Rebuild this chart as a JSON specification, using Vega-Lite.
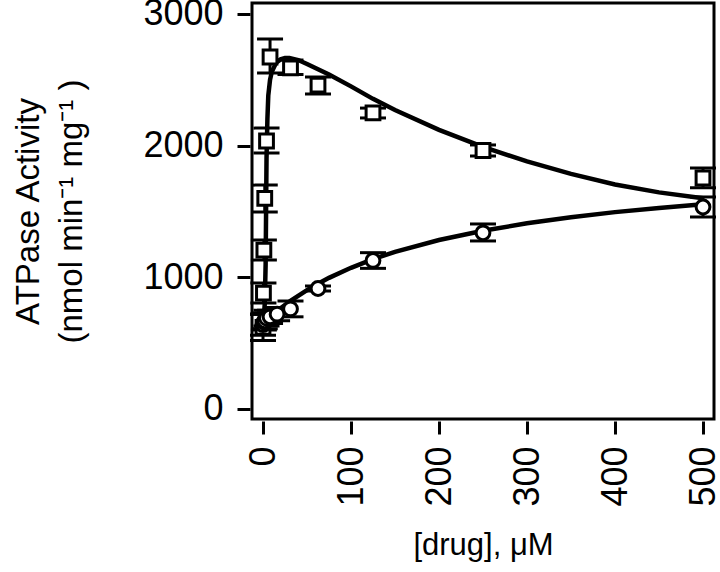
{
  "$schema": "https://vega.github.io/schema/vega-lite/v6.json",
  "autosize": {"type": "none"},
  "padding": {"left": 252, "top": 3, "right": 6, "bottom": 153},
  "width": 462,
  "height": 416,
  "config": {
    "view": {"stroke": "black", "strokeWidth": 3},
    "font": "Liberation Sans",
    "axis": {
      "domain": false, "grid": false, "offset": 2,
      "tickSize": 13, "tickWidth": 3, "tickColor": "black",
      "labelFont": "Liberation Sans", "labelFontSize": 36, "labelColor": "black",
      "titleFont": "Liberation Sans", "titleFontSize": 33, "titleFontWeight": "normal", "titleColor": "black"
    },
    "axisX": {"labelAngle": 270, "labelPadding": 12, "titlePadding": 24, "titleFontSize": 31},
    "axisY": {"labelPadding": 14, "titlePadding": 54, "titleLineHeight": 43}
  },
  "datasets": {
    "pts": [
      {"series": "A", "x": 0, "y": 620, "lo": 520, "hi": 720},
      {"series": "A", "x": 0.5, "y": 880, "lo": 805, "hi": 957},
      {"series": "A", "x": 1, "y": 1207, "lo": 1131, "hi": 1283},
      {"series": "A", "x": 2, "y": 1600, "lo": 1496, "hi": 1700},
      {"series": "A", "x": 4, "y": 2035, "lo": 1944, "hi": 2133},
      {"series": "A", "x": 8, "y": 2673, "lo": 2551, "hi": 2810},
      {"series": "A", "x": 31.25, "y": 2590, "lo": 2540, "hi": 2650},
      {"series": "A", "x": 62.5, "y": 2460, "lo": 2392, "hi": 2521},
      {"series": "A", "x": 125, "y": 2248, "lo": 2210, "hi": 2285},
      {"series": "A", "x": 250, "y": 1963, "lo": 1921, "hi": 2005},
      {"series": "A", "x": 500, "y": 1754, "lo": 1680, "hi": 1830},
      {"series": "B", "x": 0, "y": 640, "lo": 560, "hi": 720},
      {"series": "B", "x": 1, "y": 660, "lo": 600, "hi": 720},
      {"series": "B", "x": 2, "y": 670, "lo": 610, "hi": 730},
      {"series": "B", "x": 4, "y": 690, "lo": 630, "hi": 750},
      {"series": "B", "x": 8, "y": 700, "lo": 650, "hi": 750},
      {"series": "B", "x": 16, "y": 720, "lo": 670, "hi": 770},
      {"series": "B", "x": 31.25, "y": 760, "lo": 700, "hi": 820},
      {"series": "B", "x": 62.5, "y": 915, "lo": 896, "hi": 934},
      {"series": "B", "x": 125, "y": 1128, "lo": 1068, "hi": 1187},
      {"series": "B", "x": 250, "y": 1338, "lo": 1276, "hi": 1405},
      {"series": "B", "x": 500, "y": 1534, "lo": 1458, "hi": 1610}
    ],
    "curves": [
      {"series": "A", "x": 0, "y": 600},
      {"series": "A", "x": 2, "y": 800},
      {"series": "A", "x": 3, "y": 1100},
      {"series": "A", "x": 3.5, "y": 1500},
      {"series": "A", "x": 4, "y": 1900},
      {"series": "A", "x": 5, "y": 2200},
      {"series": "A", "x": 6, "y": 2380},
      {"series": "A", "x": 8, "y": 2500},
      {"series": "A", "x": 10, "y": 2560},
      {"series": "A", "x": 15, "y": 2630},
      {"series": "A", "x": 20, "y": 2655},
      {"series": "A", "x": 25, "y": 2665},
      {"series": "A", "x": 30, "y": 2665},
      {"series": "A", "x": 40, "y": 2650},
      {"series": "A", "x": 50, "y": 2620},
      {"series": "A", "x": 62.5, "y": 2580},
      {"series": "A", "x": 75, "y": 2540},
      {"series": "A", "x": 100, "y": 2450},
      {"series": "A", "x": 125, "y": 2355},
      {"series": "A", "x": 150, "y": 2270},
      {"series": "A", "x": 200, "y": 2120},
      {"series": "A", "x": 250, "y": 1990},
      {"series": "A", "x": 300, "y": 1880},
      {"series": "A", "x": 350, "y": 1785},
      {"series": "A", "x": 400, "y": 1705},
      {"series": "A", "x": 450, "y": 1645},
      {"series": "A", "x": 500, "y": 1600},
      {"series": "B", "x": 0, "y": 650},
      {"series": "B", "x": 10, "y": 710},
      {"series": "B", "x": 20, "y": 765},
      {"series": "B", "x": 31.25, "y": 821},
      {"series": "B", "x": 50, "y": 903},
      {"series": "B", "x": 62.5, "y": 951},
      {"series": "B", "x": 75, "y": 996},
      {"series": "B", "x": 100, "y": 1072},
      {"series": "B", "x": 125, "y": 1138},
      {"series": "B", "x": 150, "y": 1193},
      {"series": "B", "x": 200, "y": 1283},
      {"series": "B", "x": 250, "y": 1354},
      {"series": "B", "x": 300, "y": 1410},
      {"series": "B", "x": 350, "y": 1456},
      {"series": "B", "x": 400, "y": 1495},
      {"series": "B", "x": 450, "y": 1527},
      {"series": "B", "x": 500, "y": 1555}
    ]
  },
  "encoding": {
    "x": {
      "field": "x", "type": "quantitative",
      "scale": {"domain": [-12.5, 512.5], "nice": false, "zero": false},
      "axis": {"title": "[drug], μM", "values": [0, 100, 200, 300, 400, 500]}
    }
  },
  "layer": [
    {
      "data": {"name": "curves"},
      "mark": {"type": "line", "color": "black", "strokeWidth": 4.5},
      "encoding": {
        "y": {
          "field": "y", "type": "quantitative",
          "scale": {"domain": [-76, 3083], "nice": false, "zero": false},
          "axis": {"title": ["ATPase Activity", "(nmol min⁻¹ mg⁻¹ )"], "values": [0, 1000, 2000, 3000], "format": "d"}
        },
        "detail": {"field": "series"}
      }
    },
    {
      "data": {"name": "pts"},
      "mark": {"type": "rule", "color": "black", "strokeWidth": 3, "opacity": 1},
      "encoding": {
        "y": {"field": "lo", "type": "quantitative"},
        "y2": {"field": "hi"}
      }
    },
    {
      "data": {"name": "pts"},
      "mark": {"type": "tick", "orient": "horizontal", "color": "black", "size": 26, "thickness": 3, "opacity": 1},
      "encoding": {"y": {"field": "lo", "type": "quantitative"}}
    },
    {
      "data": {"name": "pts"},
      "mark": {"type": "tick", "orient": "horizontal", "color": "black", "size": 26, "thickness": 3, "opacity": 1},
      "encoding": {"y": {"field": "hi", "type": "quantitative"}}
    },
    {
      "data": {"name": "pts"},
      "mark": {"type": "point", "filled": false, "fill": "white", "fillOpacity": 1, "stroke": "black", "strokeWidth": 3, "size": 190, "opacity": 1},
      "encoding": {
        "y": {"field": "y", "type": "quantitative"},
        "shape": {"field": "series", "type": "nominal", "scale": {"domain": ["A", "B"], "range": ["square", "circle"]}, "legend": null}
      }
    }
  ]
}
